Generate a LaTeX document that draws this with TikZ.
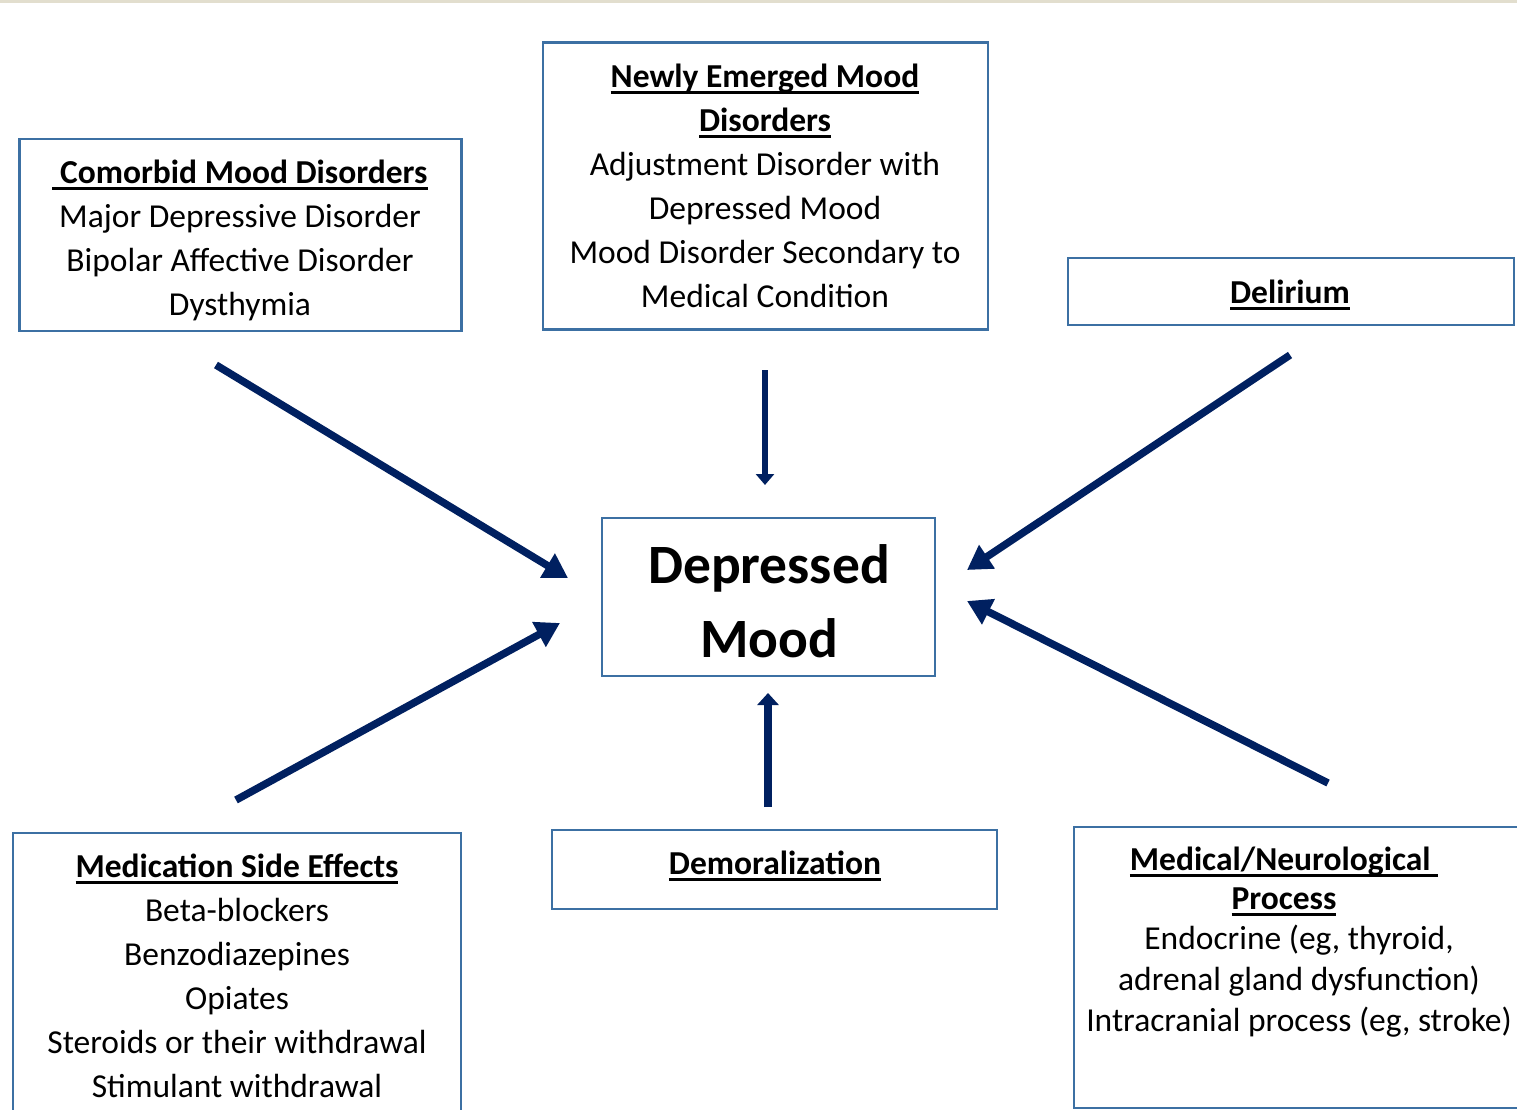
\documentclass[tikz,border=0pt]{standalone}
\usepackage{fontspec}
\setmainfont{Carlito}
\usetikzlibrary{arrows.meta}
\definecolor{boxblue}{RGB}{60,112,163}
\definecolor{arrowblue}{RGB}{0,32,96}
\definecolor{topline}{RGB}{226,222,206}
\newcommand\myul[1]{\setbox0\hbox{#1}\rlap{\rule[-6.5pt]{\wd0}{3pt}}\box0}
\begin{document}
\begin{tikzpicture}[x=1pt,y=-1pt,
  box/.style={draw=boxblue,line width=2.8pt,rectangle,inner sep=0pt},
  txt/.style={align=center,anchor=base,inner sep=0pt,font=\fontsize{33.5}{44}\selectfont},
  bigarr/.style={draw=arrowblue,line width=7.5pt,-{Triangle[length=24pt,width=27pt]}},
  vtop/.style={draw=arrowblue,line width=6pt,-{Triangle[length=11pt,width=18pt]}},
  vbot/.style={draw=arrowblue,line width=7.5pt,-{Triangle[length=12pt,width=21pt]}}]
\useasboundingbox (0,0) rectangle (1517,1110);
\clip (0,0) rectangle (1517,1110);
\fill[white] (0,0) rectangle (1517,1110);
\fill[topline] (0,0) rectangle (1517,3);

% boxes
\node[box,minimum width=442pt,minimum height=192pt] (comorbid) at (240.5,235) {};
\node[box,minimum width=445pt,minimum height=287pt] (newly) at (765.5,186) {};
\node[box,minimum width=446pt,minimum height=67pt] (delirium) at (1291,291.5) {};
\node[box,minimum width=333pt,minimum height=158pt] (dep) at (768.5,597) {};
\node[box,minimum width=448pt,minimum height=297pt] (medication) at (237,981.5) {};
\node[box,minimum width=445pt,minimum height=79pt] (demoral) at (774.5,869.5) {};
\node[box,minimum width=456pt,minimum height=281pt] (medical) at (1302,967.5) {};

% texts (anchor = baseline of the last line)
\node[txt] (t1) at (240,315) {\textbf{\myul{\ Comorbid Mood Disorders}}\\Major Depressive Disorder\\Bipolar Affective Disorder\\Dysthymia};
\node[txt] (t2) at (765,307) {\textbf{\myul{Newly Emerged Mood}}\\\textbf{\myul{Disorders}}\\Adjustment Disorder with\\Depressed Mood\\Mood Disorder Secondary to\\Medical Condition};
\node[txt] (t3) at (1290,303) {\textbf{\myul{Delirium}}};
\node[align=center,anchor=base,inner sep=0pt,font=\fontsize{55.5}{74}\selectfont\bfseries] (t4) at (769,657) {Depressed\\Mood};
\node[txt] (t5) at (237,1097) {\textbf{\myul{Medication Side Effects}}\\Beta-blockers\\Benzodiazepines\\Opiates\\Steroids or their withdrawal\\Stimulant withdrawal};
\node[txt] (t6) at (775,874) {\textbf{\myul{Demoralization}}};
\node[txt,font=\fontsize{33.5}{39}\selectfont] (t7) at (1284,909) {\textbf{\myul{Medical/Neurological\ }}\\\textbf{\myul{Process}}};
\node[txt,font=\fontsize{33.5}{41}\selectfont] (t8) at (1299,1031) {Endocrine (eg, thyroid,\\adrenal gland dysfunction)\\Intracranial process (eg, stroke)};

% arrow end points
\coordinate (a1s) at (216,365); \coordinate (a1e) at (568,578);
\coordinate (a2s) at (765,370); \coordinate (a2e) at (765,485);
\coordinate (a3s) at (1290,355); \coordinate (a3e) at (967,570);
\coordinate (a4s) at (236,800); \coordinate (a4e) at (560,623);
\coordinate (a5s) at (768,807); \coordinate (a5e) at (768,693);
\coordinate (a6s) at (1328,783); \coordinate (a6e) at (967,601);

\draw[bigarr] (a1s) -- (a1e);
\draw[vtop] (a2s) -- (a2e);
\draw[bigarr] (a3s) -- (a3e);
\draw[bigarr] (a4s) -- (a4e);
\draw[vbot] (a5s) -- (a5e);
\draw[bigarr] (a6s) -- (a6e);
\end{tikzpicture}
\end{document}
